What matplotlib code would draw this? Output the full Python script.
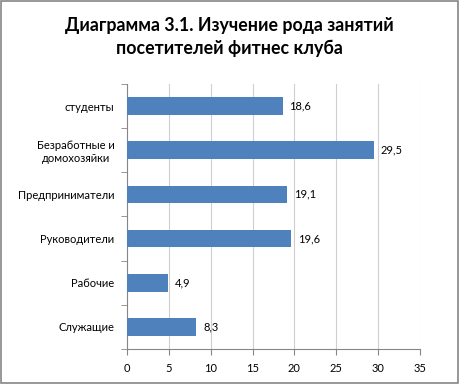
import matplotlib.pyplot as plt
import numpy as np

# Categories (bottom to top as drawn)
categories = ['Служащие', 'Рабочие', 'Руководители', 'Предприниматели',
              'Безработные и\nдомохозяйки', 'студенты']
values = [8.3, 4.9, 19.6, 19.1, 29.5, 18.6]
value_labels = ['8,3', '4,9', '19,6', '19,1', '29,5', '18,6']
xticks = [0, 5, 10, 15, 20, 25, 30, 35]

plt.rcParams['font.family'] = ['Lato', 'DejaVu Sans']

fig = plt.figure(figsize=(4.59, 3.84), dpi=100)
ax = fig.add_axes([127 / 459, 1 - 349 / 384, (420 - 127) / 459, (349 - 84) / 384])

y = np.arange(len(categories))
ax.barh(y, values, height=0.4, color='#4F81BD', zorder=3)

for yi, v, lab in zip(y, values, value_labels):
    ax.text(v + 0.8, yi, lab, va='center', ha='left', fontsize=8, color='#000000')

ax.set_xlim(0, 35)
ax.set_ylim(-0.5, len(categories) - 0.5)
ax.set_xticks(xticks)
ax.set_xticklabels([str(t) for t in xticks], fontsize=8)
ax.set_yticks(y)
ax.set_yticklabels(categories, fontsize=8, multialignment='center')
ax.set_yticks(np.arange(-0.5, len(categories)), minor=True)
ax.tick_params(axis='y', which='major', length=0, pad=9)
ax.tick_params(axis='y', which='minor', length=4, color='#868686', direction='out')
ax.tick_params(axis='x', length=4, color='#868686', direction='out', pad=6)
ax.grid(axis='x', color='#cfcfcf', linewidth=0.8, zorder=0)

for side in ['top', 'right']:
    ax.spines[side].set_visible(False)
ax.spines['left'].set_color('#868686')
ax.spines['bottom'].set_color('#868686')

fig.text(0.5, 1 - 25 / 384, 'Диаграмма 3.1. Изучение рода занятий',
         ha='center', va='center', fontsize=12.8, fontweight='bold')
fig.text(0.5, 1 - 48 / 384, 'посетителей фитнес клуба',
         ha='center', va='center', fontsize=12.8, fontweight='bold')

# outer frame
frame = plt.Rectangle((0.002, 0.003), 0.995, 0.994, transform=fig.transFigure,
                      fill=False, edgecolor='#868686', linewidth=1.2)
fig.patches.append(frame)

fig.savefig('out.png', dpi=100)
